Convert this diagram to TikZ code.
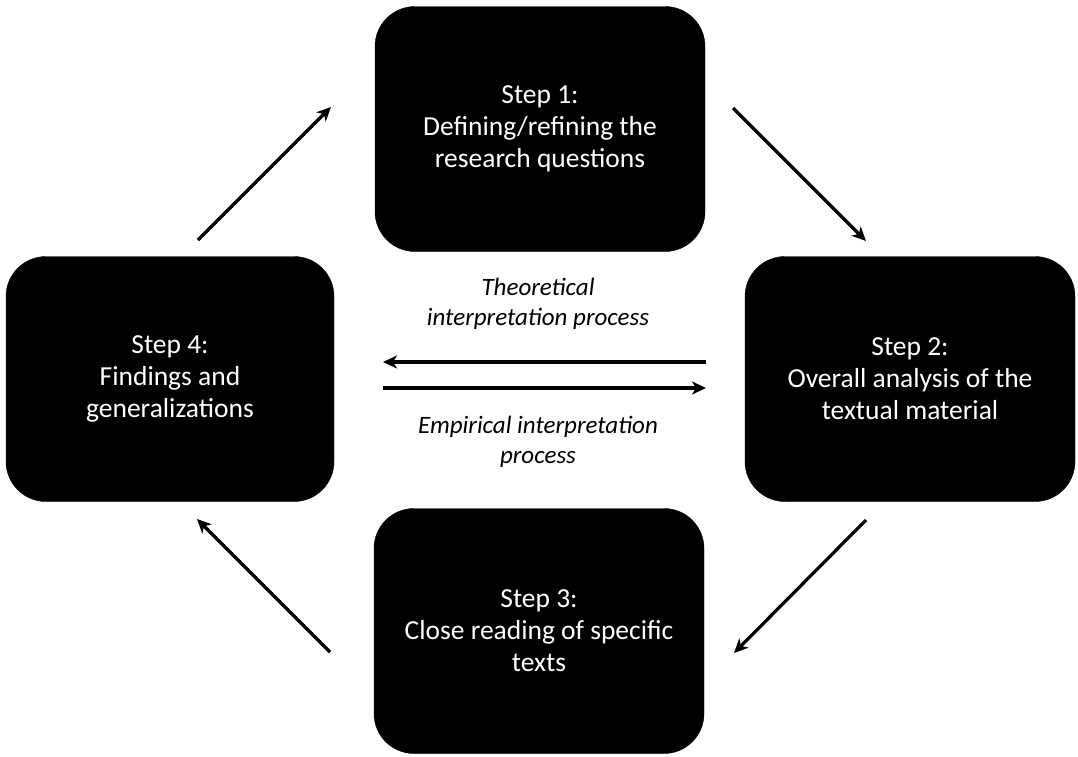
\documentclass[tikz,border=0pt]{standalone}
\usepackage{fontspec}
\setmainfont{Carlito}
\usetikzlibrary{arrows.meta}
\begin{document}
\begin{tikzpicture}[x=1pt,y=-1pt,
  stepbox/.style={fill=black,draw=black,rounded corners=40pt,minimum width=330pt,minimum height=245pt,
    text=white,align=center,font=\fontsize{27.5}{32}\selectfont,inner sep=0pt},
  lbl/.style={align=center,font=\fontsize{25}{30}\selectfont\itshape},
  arr/.style={line width=3.2pt,-{Stealth[length=14pt,width=13pt,inset=4pt]}}]
\useasboundingbox (0,0) rectangle (1078,756);
\node[stepbox] (s1) at (540,129) {Step 1:\\Defining/refining the\\research questions};
\node[stepbox,minimum width=328pt] (s4) at (170,379) {Step 4:\\Findings and\\generalizations};
\node[stepbox] (s2) at (910,379) {Step 2:\\Overall analysis of the\\textual material};
\node[stepbox] (s3) at (539,631) {Step 3:\\Close reading of specific\\texts};
\node[lbl] (t) at (538,304) {Theoretical\\interpretation process};
\node[lbl] (e) at (538,442) {Empirical interpretation\\process};
\coordinate (a1) at (198,240); \coordinate (b1) at (331,107);
\coordinate (a2) at (733,108); \coordinate (b2) at (866,241);
\coordinate (a3) at (866,520); \coordinate (b3) at (734,653);
\coordinate (a4) at (330,652); \coordinate (b4) at (197,519);
\coordinate (l1) at (706,362); \coordinate (l2) at (383,362);
\coordinate (r1) at (383,388); \coordinate (r2) at (706,388);
\draw[arr] (a1) -- (b1);
\draw[arr] (a2) -- (b2);
\draw[arr] (a3) -- (b3);
\draw[arr] (a4) -- (b4);
\draw[arr] (l1) -- (l2);
\draw[arr] (r1) -- (r2);
\end{tikzpicture}
\end{document}
